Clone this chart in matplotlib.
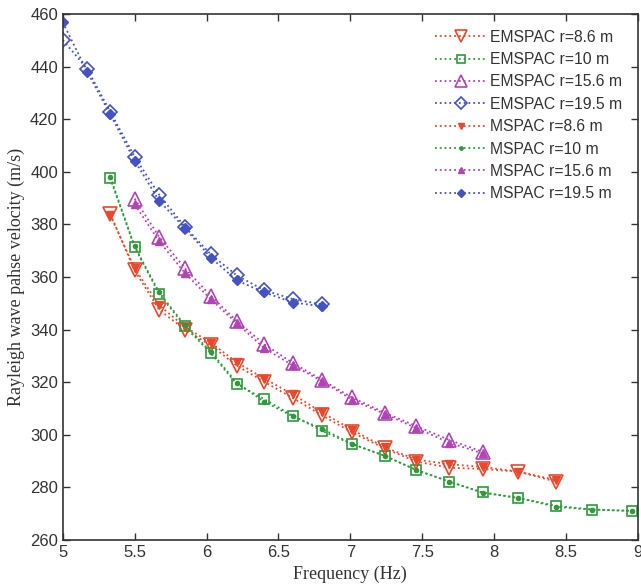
import matplotlib
matplotlib.use("Agg")
import matplotlib.pyplot as plt

freq = [5.0, 5.17, 5.33, 5.5, 5.67, 5.85, 6.03, 6.21, 6.4, 6.6, 6.8, 7.01, 7.24,
        7.46, 7.69, 7.92, 8.17, 8.43, 8.68, 8.96]

# EMSPAC
em_86_f = freq[2:18]
em_86_v = [384, 362.5, 347.5, 340, 334, 326.3, 320.2, 314, 307.5, 301, 294.8, 289.8, 287.5, 287, 286, 282.2]
em_10_f = freq[2:20]
em_10_v = [397.5, 371.3, 353.6, 341.2, 331, 319.3, 313.6, 307.3, 301.6, 296.5, 292, 286.6, 282.2, 278.1, 276, 273, 271.6, 271.1]
em_156_f = freq[3:16]
em_156_v = [389.8, 375.3, 363.3, 352.8, 343.3, 334.5, 327.3, 321, 314.2, 308.4, 303.3, 298, 293.6]
em_195_f = freq[0:11]
em_195_v = [450.1, 439.1, 422.8, 405.7, 391.3, 379.0, 368.6, 360.6, 355.0, 351.6, 349.6]

# MSPAC
ms_86_f = freq[2:18]
ms_86_v = [383.5, 363.3, 349.3, 341, 335, 327.6, 321.4, 315.4, 308.6, 302, 295.2, 290.6, 288.8, 287.8, 286, 282.8]
ms_10_f = freq[2:20]
ms_10_v = [398, 371.6, 354.2, 341.6, 331.6, 319.8, 312.6, 307, 302.4, 296.6, 292, 286.6, 282.2, 278, 276, 272.6, 271.6, 271]
ms_156_f = freq[3:16]
ms_156_v = [387.6, 373.6, 361.5, 351.5, 342.4, 333, 326.4, 320.5, 313.4, 307.9, 302.5, 297, 292.9]
ms_195_f = freq[0:11]
ms_195_v = [456.8, 438.0, 421.8, 404.2, 389.0, 378.5, 367.4, 358.7, 354.2, 350.3, 348.9]

labels_em = ["EMSPAC r=8.6 m", "EMSPAC r=10 m", "EMSPAC r=15.6 m", "EMSPAC r=19.5 m"]
labels_ms = ["MSPAC r=8.6 m", "MSPAC r=10 m", "MSPAC r=15.6 m", "MSPAC r=19.5 m"]

xticks = [5, 5.5, 6, 6.5, 7, 7.5, 8, 8.5, 9]
xticklabels = ["5", "5.5", "6", "6.5", "7", "7.5", "8", "8.5", "9"]
yticks = [260, 280, 300, 320, 340, 360, 380, 400, 420, 440, 460]

red = "#e8482c"
green = "#2f9a3c"
mag = "#b044b4"
blue = "#4452c2"
colors = [red, green, mag, blue]

fig = plt.figure(figsize=(6.41, 5.88), dpi=100)
ax = fig.add_axes([0.098, 0.0816, 0.897, 0.8946])

em_data = [(em_86_f, em_86_v), (em_10_f, em_10_v), (em_156_f, em_156_v), (em_195_f, em_195_v)]
ms_data = [(ms_86_f, ms_86_v), (ms_10_f, ms_10_v), (ms_156_f, ms_156_v), (ms_195_f, ms_195_v)]
em_markers = [("v", 10), ("s", 7), ("^", 10), ("D", 7.5)]
ms_markers = [("v", 6), ("o", 3), ("^", 6), ("D", 5)]

for (f, v), c, (m, s), lab in zip(em_data, colors, em_markers, labels_em):
    ax.plot(f, v, linestyle=":", color=c, linewidth=1.3, marker=m, markersize=s,
            markerfacecolor="none", markeredgecolor=c, markeredgewidth=1.2, label=lab)
for (f, v), c, (m, s), lab in zip(ms_data, colors, ms_markers, labels_ms):
    ax.plot(f, v, linestyle=":", color=c, linewidth=1.3, marker=m, markersize=s,
            markerfacecolor=c, markeredgecolor=c, label=lab)

ax.set_xlim(5, 9)
ax.set_ylim(260, 460)
ax.set_xticks(xticks)
ax.set_xticklabels(xticklabels)
ax.set_yticks(yticks)
ax.tick_params(direction="in", top=True, right=True, length=5, width=1,
               labelsize=12, colors="#333333")
for lab in ax.get_xticklabels() + ax.get_yticklabels():
    lab.set_fontfamily("Liberation Sans")
    lab.set_color("#333333")
for sp in ax.spines.values():
    sp.set_linewidth(1.2)
    sp.set_color("#333333")

ax.set_xlabel("Frequency (Hz)", fontsize=13, family="Liberation Serif", color="#333333", labelpad=4)
ax.set_ylabel("Rayleigh wave pahse velocity (m/s)", fontsize=13, family="Liberation Serif", color="#333333", labelpad=4)

leg = ax.legend(loc="upper right", frameon=False, handlelength=3.3, markerscale=0.8,
                labelspacing=0.47, handletextpad=0.2, borderaxespad=0.2,
                borderpad=0.8, prop={"family": "Liberation Sans", "size": 11.3})
for t in leg.get_texts():
    t.set_color("#333333")

fig.savefig("out.png", dpi=100)
